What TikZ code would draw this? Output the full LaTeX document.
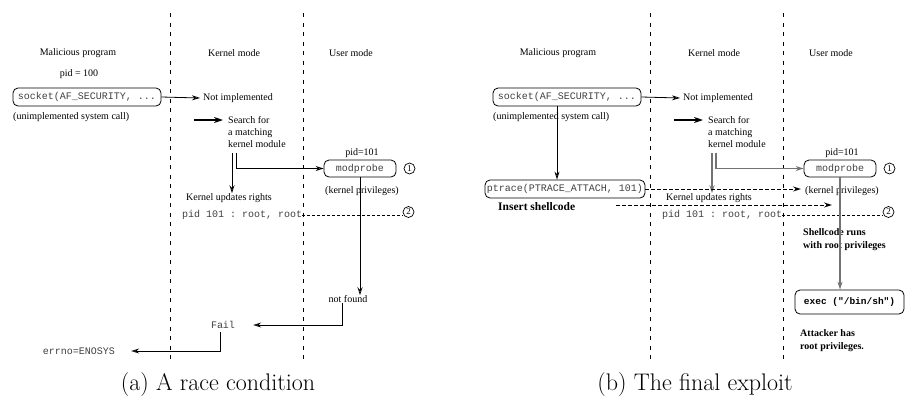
\documentclass[tikz,border=0pt]{standalone}
\usepackage{fontspec}
\setmonofont{Liberation Mono}
\newfontfamily\tfont{Liberation Serif}
\usetikzlibrary{arrows.meta}
\tikzset{
 lbl/.style={font=\tfont\fontsize{10}{12}\selectfont, inner sep=0pt},
 blbl/.style={font=\tfont\bfseries\fontsize{10}{13}\selectfont, inner sep=0pt, align=left},
 mono/.style={font=\ttfamily\fontsize{10}{12}\selectfont, text=black!75, inner sep=0pt},
 rbox/.style={draw, rounded corners=5pt, line width=0.8pt, minimum height=18pt, inner xsep=1pt, inner ysep=0pt,
   font=\ttfamily\fontsize{10}{12}\selectfont, text=black!75},
 sepline/.style={line width=0.8pt, dash pattern=on 4pt off 5.5pt},
 arr/.style={line width=0.8pt, -{Stealth[open, length=8pt, width=5pt]}},
 barr/.style={line width=1.6pt, -{Stealth[length=9pt, width=6pt]}},
 darr/.style={line width=1pt, dash pattern=on 3.5pt off 2.5pt, -{Stealth[open, length=8pt, width=5pt]}},
 dline/.style={line width=0.6pt, dash pattern=on 3pt off 2pt},
 num/.style={draw, circle, line width=0.7pt, minimum size=11pt, inner sep=0pt, font=\tfont\fontsize{9}{10}\selectfont},
 captxt/.style={font=\fontsize{24}{28}\selectfont, inner sep=0pt},
 lineA/.style={draw=black},
 lineB/.style={draw=black!55, line width=1.1pt},
}
\newcommand{\panelbody}[2]{%
 \draw[sepline] (170,13) -- (170,362);
 \draw[sepline] (303,13) -- (303,362);
 \node[lbl] (hmal#1) at (78,53) {Malicious program};
 \node[lbl] (hker#1) at (234,53) {Kernel mode};
 \node[lbl] (husr#1) at (351,53) {User mode};
 \node[rbox, minimum width=148pt] (sock#1) at (87,97) {socket(AF\_SECURITY, ...};
 \node[lbl, anchor=west] (unimp#1) at (13,117) {(unimplemented system call)};
 \node[lbl, anchor=west] (notimp#1) at (203,98) {Not implemented};
 \node[lbl, anchor=north west, align=left] (search#1) at (228,116) {Search for\\a matching\\kernel module};
 \coordinate (bs#1) at (194,120);
 \node[lbl] (pidone#1) at (362,153) {pid=101};
 \node[rbox, minimum width=72pt, minimum height=17pt] (mod#1) at (360,168.5) {modprobe};
 \node[num] (cone#1) at (409.5,168.5) {1};
 \node[lbl] (kpriv#1) at (362,191) {(kernel privileges)};
 \node[lbl] (kupd#1) at (229,198) {Kernel updates rights};
 \node[mono, anchor=west] (pidr#1) at (182,215) {pid 101 : root, root};
 \node[num] (ctwo#1) at (408.5,212) {2};
 \draw[arr] (sock#1.east) -- ([xshift=-3pt]notimp#1.west);
 \draw[barr] (bs#1) -- ([xshift=-5pt,yshift=-4pt]search#1.north west);
 \draw[arr,#2] ([xshift=8pt,yshift=-5.5pt]search#1.south west) |- (mod#1.west);
 \draw[arr,#2] ([xshift=4pt,yshift=-5.5pt]search#1.south west) -- ([xshift=4pt]search#1.south west |- kupd#1.north);
 \draw[dline] (pidr#1.east) -- (pidr#1.east -| ctwo#1.west);
}
\begin{document}
\begin{tikzpicture}[x=1pt, y=-1pt]
\useasboundingbox (0,0) rectangle (905,397);
% ---------- panel (a)
\panelbody{a}{lineA}
\node[lbl] (pidh) at (79,74) {pid = 100};
\node[lbl] (nf) at (348,299) {not found};
\node[mono] (fail) at (223,325) {Fail};
\node[mono] (errno) at (79,351) {errno=ENOSYS};
\draw[arr] (moda.south) -- (moda.south |- nf.north);
\draw[arr] ([xshift=-6pt]nf.south) |- ([xshift=18pt]fail.east);
\draw[arr] ([xshift=-3pt,yshift=-3pt]fail.south) |- ([xshift=16pt]errno.east);
\node[captxt] (capa) at (218,385) {(a) A race condition};
% ---------- panel (b)
\begin{scope}[xshift=480pt]
\panelbody{b}{lineB}
\node[rbox, minimum width=160pt] (ptr) at (85,189) {ptrace(PTRACE\_ATTACH, 101)};
\node[blbl, font=\tfont\bfseries\fontsize{11.5}{13}\selectfont, anchor=west] (ins) at (18,207) {Insert shellcode};
\coordinate (isa) at (136,205);
\coordinate (isb) at (352,205);
\node[blbl, anchor=west] (shr) at (323,239.5) {Shellcode runs\\with root privileges};
\node[rbox, minimum width=109pt, minimum height=24pt, font=\ttfamily\bfseries\fontsize{9.5}{11}\selectfont, text=black] (exec) at (369.5,302) {exec ("/bin/sh")};
\node[blbl, anchor=west] (att) at (320,340.5) {Attacker has\\root privileges.};
\draw[arr] ([xshift=-10pt]sockb.south) -- ([xshift=-10pt]sockb.south |- ptr.north);
\draw[darr] (ptr.east) -- ([xshift=-4pt]ptr.east -| kprivb.west);
\draw[darr] (isa) -- (isb);
\draw[arr,lineB] (modb.south) -- (modb.south |- exec.north);
\node[captxt] (capb) at (215,385) {(b) The final exploit};
\end{scope}
\end{tikzpicture}
\end{document}
